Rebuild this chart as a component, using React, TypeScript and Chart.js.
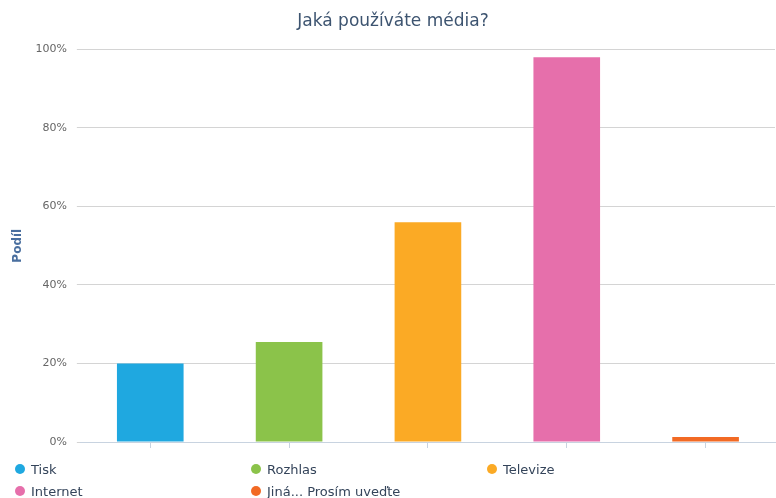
import React, { useEffect, useRef } from "react";
import { Chart, registerables } from "chart.js";

Chart.register(...registerables);

const categories = ["Tisk", "Rozhlas", "Televize", "Internet", "Jiná... Prosím uveďte"];
const shares = [20, 25.5, 56, 98, 1.3];
const colors = ["#1fa8e0", "#8bc34a", "#fbaa25", "#e66fab", "#f26a24"];
const yTicks = [0, 20, 40, 60, 80, 100];

const FONT = "'DejaVu Sans', sans-serif";

export default function App() {
  const ref = useRef<HTMLCanvasElement | null>(null);

  useEffect(() => {
    document.body.style.margin = "0";
    const ctx = ref.current!;
    const chart = new Chart(ctx, {
      type: "bar",
      data: {
        labels: categories,
        datasets: [
          {
            label: "Podíl",
            data: shares,
            backgroundColor: colors,
            borderWidth: 0,
            categoryPercentage: 1,
            barPercentage: 0.48,
          },
        ],
      },
      options: {
        responsive: false,
        animation: false,
        devicePixelRatio: 1,
        layout: { padding: { left: 11, right: 1, top: 0, bottom: 50 } },
        plugins: {
          legend: { display: false },
          tooltip: { enabled: false },
          title: {
            display: true,
            text: "Jaká používáte média?",
            color: "#3d5470",
            font: { family: FONT, size: 17, weight: "normal" },
            padding: { top: 11, bottom: 18 },
          },
        },
        scales: {
          x: {
            grid: {
              offset: false,
              drawOnChartArea: false,
              drawTicks: true,
              tickLength: 6,
              color: "#c8d3e0",
            },
            border: { display: true, color: "#c8d3e0", width: 1 },
            ticks: { display: false },
          },
          y: {
            min: 0,
            max: 100,
            afterBuildTicks: (axis: any) => {
              axis.ticks = yTicks.map((v) => ({ value: v }));
            },
            grid: { color: "#d4d4d4", tickLength: 4, drawTicks: true },
            border: { display: false },
            ticks: {
              color: "#666666",
              font: { family: FONT, size: 11 },
              padding: 10,
              callback: (v: any) => v + "%",
            },
            title: {
              display: true,
              text: "Podíl",
              color: "#4a6f9f",
              font: { family: FONT, size: 12, weight: "bold" },
              padding: { top: 0, bottom: 0 },
            },
          },
        },
      },
    });
    return () => chart.destroy();
  }, []);

  const legendPos = [
    { x: 20, y: 469 },
    { x: 256, y: 469 },
    { x: 492, y: 469 },
    { x: 20, y: 491 },
    { x: 256, y: 491 },
  ];

  return (
    <div style={{ position: "relative", width: 776, height: 498, background: "#fff" }}>
      <canvas ref={ref} width={776} height={498} style={{ display: "block" }} />
      {categories.map((c, i) => (
        <div
          key={c}
          style={{
            position: "absolute",
            left: legendPos[i].x - 5,
            top: legendPos[i].y - 9,
            height: 18,
            display: "flex",
            alignItems: "center",
            fontFamily: FONT,
            fontSize: 13,
            color: "#34445a",
            whiteSpace: "nowrap",
          }}
        >
          <span
            style={{
              width: 10,
              height: 10,
              borderRadius: 5,
              background: colors[i],
              display: "inline-block",
              marginRight: 6,
            }}
          />
          {c}
        </div>
      ))}
    </div>
  );
}
